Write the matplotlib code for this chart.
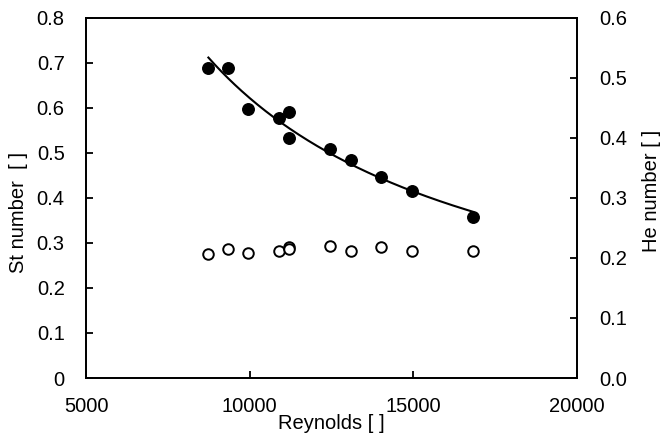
import numpy as np
import matplotlib
matplotlib.use("Agg")
import matplotlib.pyplot as plt

plt.rcParams['font.family'] = ['Liberation Sans', 'DejaVu Sans']

# Strouhal number measurements (left axis)
re_st = [8736, 9347, 9958, 10896, 11211, 11211, 12463, 13096, 14003, 14959, 16823]
st = [0.688, 0.688, 0.597, 0.578, 0.590, 0.533, 0.508, 0.484, 0.446, 0.416, 0.357]

# He number measurements (right axis)
re_he = [8736, 9347, 9958, 10896, 11211, 11211, 12463, 13096, 14003, 14959, 16823]
he = [0.207, 0.215, 0.209, 0.212, 0.219, 0.2145, 0.2195, 0.212, 0.219, 0.212, 0.212]

x_ticks = [5000, 10000, 15000, 20000]
st_ticks = [0, 0.1, 0.2, 0.3, 0.4, 0.5, 0.6, 0.7, 0.8]
st_labels = ['0', '0.1', '0.2', '0.3', '0.4', '0.5', '0.6', '0.7', '0.8']
he_ticks = [0.0, 0.1, 0.2, 0.3, 0.4, 0.5, 0.6]
he_labels = ['0.0', '0.1', '0.2', '0.3', '0.4', '0.5', '0.6']

fig = plt.figure(figsize=(6.63, 4.36), dpi=100)
ax = fig.add_axes([0.130, 0.133, 0.740, 0.826])
ax2 = ax.twinx()

# power-law trendline through the St data
b, a = np.polyfit(np.log(re_st), np.log(st), 1)
re_fit = np.linspace(min(re_st), max(re_st), 200)
ax.plot(re_fit, np.exp(a) * re_fit ** b, color='black', lw=1.5, zorder=2)

ax.plot(re_st, st, 'o', color='black', ms=8.3, zorder=3)
ax2.plot(re_he, he, 'o', mfc='white', mec='black', mew=1.4, ms=7.6, zorder=3)

ax.set_xlim(5000, 20000)
ax.set_ylim(0, 0.8)
ax2.set_ylim(0, 0.6)

ax.set_xticks(x_ticks)
ax.set_yticks(st_ticks)
ax.set_yticklabels(st_labels)
ax2.set_yticks(he_ticks)
ax2.set_yticklabels(he_labels)

fs = 14.5
for a_ in (ax, ax2):
    for s in a_.spines.values():
        s.set_linewidth(1.3)
ax.tick_params(axis='both', direction='in', length=5, width=1.3, labelsize=fs)
ax.tick_params(axis='x', pad=14)
ax.tick_params(axis='y', pad=15.5)
ax2.tick_params(axis='y', direction='in', length=5, width=1.3, labelsize=fs, pad=16.5)

ax.set_xlabel('Reynolds [ ]', fontsize=fs, va='center')
ax.xaxis.set_label_coords(0.5, -0.125)
ax.set_ylabel('St number  [ ]', fontsize=fs, va='center')
ax.yaxis.set_label_coords(-0.138, 0.46)
ax2.set_ylabel('He number [ ]', fontsize=fs, va='center')
ax2.yaxis.set_label_coords(1.152, 0.52)

fig.savefig('out.png', dpi=100)
